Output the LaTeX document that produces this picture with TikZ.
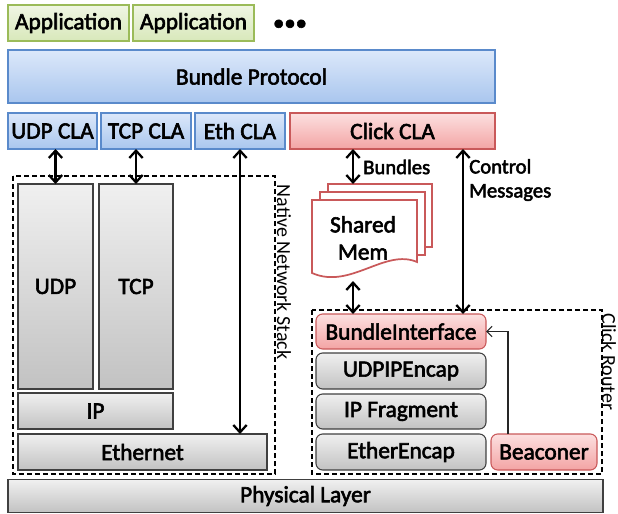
\documentclass[tikz,border=0pt]{standalone}
\usepackage{fontspec}
\setmainfont{Carlito}[UprightFeatures={FakeBold=2.5}]
\newfontfamily\plainfont{Carlito}
\usetikzlibrary{arrows.meta}

\definecolor{grnline}{HTML}{9BBB59}
\definecolor{grntop}{HTML}{F0F6E4}
\definecolor{grnbot}{HTML}{D8E8BA}
\definecolor{bluline}{HTML}{5A8ACB}
\definecolor{blutop}{HTML}{DCE8FA}
\definecolor{blubot}{HTML}{A9C6EE}
\definecolor{redline}{HTML}{C9595A}
\definecolor{redtop}{HTML}{FCE0E0}
\definecolor{redbot}{HTML}{F3A4A4}
\definecolor{gryline}{HTML}{404040}
\definecolor{grytop}{HTML}{F0F0F0}
\definecolor{grybot}{HTML}{C2C2C2}

\tikzset{
  layer/.style={draw, line width=0.8pt, inner sep=0pt, outer sep=0pt,
    font=\fontsize{17.5}{20}\selectfont},
  appbox/.style={layer, draw=grnline, top color=grntop, bottom color=grnbot},
  bluebox/.style={layer, draw=bluline, top color=blutop, bottom color=blubot},
  redbox/.style={layer, draw=redline, top color=redtop, bottom color=redbot},
  graybox/.style={layer, draw=gryline, top color=grytop, bottom color=grybot},
  elem/.style={rounded corners=5pt},
  group/.style={draw=black, line width=1.1pt, dash pattern=on 4pt off 2pt},
  grouplabel/.style={font=\plainfont\fontsize{15}{18}\selectfont, rotate=-90, inner sep=0pt},
  biarrow/.style={line width=1.7pt, {Straight Barb[length=5.5pt,width=10pt]}-{Straight Barb[length=5.5pt,width=10pt]}},
  thinarrow/.style={line width=0.8pt, draw=black!85, -{Straight Barb[length=4pt,width=8pt]}},
  note/.style={font=\fontsize{15.5}{18}\selectfont, inner sep=0pt, align=left},
  docpage/.style={draw=redline, line width=1.3pt, fill=white}
}

\begin{document}
\begin{tikzpicture}[x=0.75pt,y=-0.75pt]
\useasboundingbox (0,0) rectangle (618,514);

% applications and bundle protocol
\node[appbox, minimum width=90.75pt, minimum height=27pt] (app1) at (68.5,23) {Application};
\node[appbox, minimum width=90.75pt, minimum height=27pt] (app2) at (193.5,23) {Application};
\node[font=\fontsize{17}{20}\selectfont, inner sep=0pt] (more) at (290,25) {•••};
\node[bluebox, minimum width=365.25pt, minimum height=39.75pt] (bp) at (251.5,76.5) {Bundle Protocol};

% convergence layer adapters
\node[bluebox, minimum width=66.75pt, minimum height=27pt] (udpcla) at (52.5,131) {UDP CLA};
\node[bluebox, minimum width=67.5pt, minimum height=27pt] (tcpcla) at (146,131) {TCP CLA};
\node[bluebox, minimum width=67.5pt, minimum height=27pt] (ethcla) at (240,131) {Eth CLA};
\node[redbox, minimum width=153.75pt, minimum height=27pt] (clickcla) at (392.5,131) {Click CLA};

% native network stack
\draw[group] (13,176) rectangle (275,474);
\node[grouplabel] (nativelbl) at (284,272) {Native Network Stack};
\node[graybox, minimum width=56.25pt, minimum height=153.75pt] (udp) at (55.5,286.5) {UDP};
\node[graybox, minimum width=55.5pt, minimum height=153.75pt] (tcp) at (136,286.5) {TCP};
\node[graybox, minimum width=116.25pt, minimum height=27pt] (ip) at (95.5,411) {IP};
\node[graybox, minimum width=186.75pt, minimum height=27pt] (eth) at (142.5,452) {Ethernet};

% physical layer
\node[graybox, minimum width=446.25pt, minimum height=24.75pt] (phys) at (305.5,496) {Physical Layer};

% click router
\draw[group] (312,310) rectangle (602,474);
\node[grouplabel] (clicklbl) at (609,362) {Click Router};
\node[redbox, elem, minimum width=127.5pt, minimum height=26.25pt] (bif) at (401,331.5) {BundleInterface};
\node[graybox, elem, minimum width=127.5pt, minimum height=27pt] (udpip) at (401,371) {UDPIPEncap};
\node[graybox, elem, minimum width=127.5pt, minimum height=26.25pt] (ipfrag) at (401,411.5) {IP Fragment};
\node[graybox, elem, minimum width=127.5pt, minimum height=27pt] (etherenc) at (401,452) {EtherEncap};
\node[redbox, elem, minimum width=79.5pt, minimum height=27pt] (beacon) at (544,452) {Beaconer};

% shared memory (stacked pages)
\draw[docpage] (328,184) rectangle (432,247);
\draw[docpage] (320,192) rectangle (425,255);
\draw[docpage] (312,200) -- (417,200) -- (417,262)
  .. controls (385,248) and (350,290) .. (312,273) -- cycle;
\node[font=\fontsize{17.5}{20.5}\selectfont, align=center, inner sep=0pt] (shm) at (363,238) {Shared\\Mem};
\coordinate (shmtop) at (353,184);
\coordinate (shmbot) at (353,281);

% connectors
\draw[biarrow] (udpcla.south -| udp.north) -- (udp.north);
\draw[biarrow] (tcpcla.south -| tcp.north) -- (tcp.north);
\draw[biarrow] (ethcla.south) -- (ethcla.south |- eth.north);
\draw[biarrow] (clickcla.south -| shmtop) -- (shmtop);
\draw[biarrow] (shmbot) -- (shmbot |- bif.north);
\coordinate (ctrl) at (463,0);
\draw[biarrow] (clickcla.south -| ctrl) -- (bif.north -| ctrl);
\draw[thinarrow] (beacon.north -| 508,0) |- (bif.east);

% connector labels
\node[note, anchor=west] (bundlbl) at (363,167) {Bundles};
\node[note, anchor=west] (ctrllbl) at (469,180) {Control\\Messages};
\end{tikzpicture}
\end{document}
